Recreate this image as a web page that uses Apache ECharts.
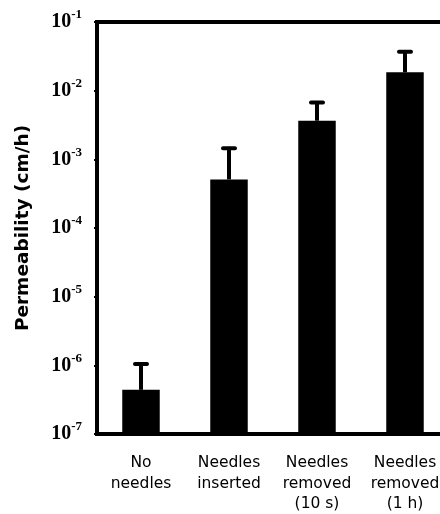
<!DOCTYPE html>
<html>
<head>
<meta charset="utf-8">
<script src="https://cdn.jsdelivr.net/npm/echarts@6/dist/echarts.min.js"></script>
<style>html,body{margin:0;padding:0;background:#fff;}#c{width:440px;height:514px;}</style>
</head>
<body>
<div id="c"></div>
<script>
var categories = ['No\nneedles', 'Needles\ninserted', 'Needles\nremoved\n(10 s)', 'Needles\nremoved\n(1 h)'];
var means = [4.4e-7, 5.1e-4, 3.65e-3, 1.85e-2];
var upperErrors = [1.05e-6, 1.45e-3, 6.7e-3, 3.7e-2];
var yMin = 1e-7;
var yMax = 1e-1;
var yTitle = 'Permeability (cm/h)';

var barData = categories.map(function (c, i) { return [i, means[i]]; });
var errData = categories.map(function (c, i) { return [i, means[i], upperErrors[i]]; });

var chart = echarts.init(document.getElementById('c'), null, {renderer: 'canvas'});
chart.setOption({
  backgroundColor: '#fff',
  animation: false,
  grid: {left: 97, right: -9, top: 22, bottom: 80, show: true, borderColor: '#000', borderWidth: 4, containLabel: false, outerBoundsMode: 'none'},
  xAxis: {
    type: 'category',
    data: categories,
    boundaryGap: true,
    axisLine: {lineStyle: {color: '#000', width: 4}},
    axisTick: {show: false},
    axisLabel: {
      color: '#000', fontFamily: 'DejaVu Sans', fontSize: 15.5, lineHeight: 20.5, margin: 19, interval: 0
    },
    splitLine: {show: false}
  },
  yAxis: {
    type: 'log',
    logBase: 10,
    min: yMin,
    max: yMax,
    name: yTitle,
    nameLocation: 'middle',
    nameGap: 64,
    nameTextStyle: {color: '#000', fontFamily: 'DejaVu Sans', fontWeight: 'bold', fontSize: 18.5},
    axisLine: {lineStyle: {color: '#000', width: 4}},
    axisTick: {show: true, length: 3, lineStyle: {color: '#000', width: 2}},
    splitLine: {show: false},
    axisLabel: {
      margin: 15,
      formatter: function (v) {
        var e = Math.round(Math.log(v) / Math.LN10);
        return '{a|10}{b|' + e + '}';
      },
      rich: {
        a: {fontFamily: 'Liberation Serif', fontWeight: 'bold', fontSize: 20, color: '#000'},
        b: {fontFamily: 'Liberation Serif', fontWeight: 'bold', fontSize: 13, color: '#000', padding: [0, 0, 14, 0]}
      }
    }
  },
  series: [
    {
      type: 'custom',
      data: barData,
      encode: {x: 0, y: 1},
      renderItem: function (params, api) {
        var i = api.value(0);
        var top = api.coord([i, api.value(1)]);
        var base = api.coord([i, yMin]);
        var w = api.size([1, 0])[0] * 0.426;
        return {
          type: 'rect',
          shape: {x: top[0] - w / 2, y: top[1], width: w, height: base[1] - top[1]},
          style: {fill: '#000'}
        };
      },
      z: 2
    },
    {
      type: 'custom',
      data: errData,
      encode: {x: 0, y: [1, 2]},
      renderItem: function (params, api) {
        var i = api.value(0);
        var p0 = api.coord([i, api.value(1)]);
        var p1 = api.coord([i, api.value(2)]);
        return {
          type: 'group',
          children: [
            {type: 'line', shape: {x1: p0[0], y1: p0[1], x2: p1[0], y2: p1[1]}, style: {stroke: '#000', lineWidth: 4}},
            {type: 'line', shape: {x1: p1[0] - 6, y1: p1[1], x2: p1[0] + 6, y2: p1[1]}, style: {stroke: '#000', lineWidth: 4, lineCap: 'round'}}
          ]
        };
      },
      z: 3
    }
  ]
});
</script>
</body>
</html>
